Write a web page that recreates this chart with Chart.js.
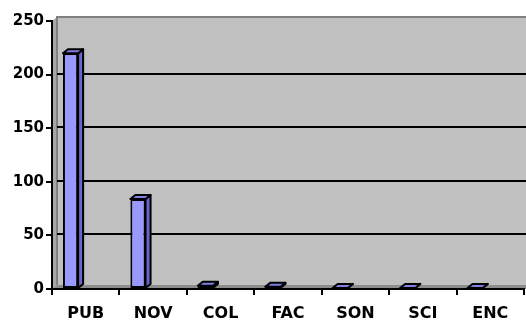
<!DOCTYPE html>
<html>
<head>
<meta charset="utf-8">
<script src="https://cdn.jsdelivr.net/npm/chart.js@4/dist/chart.umd.min.js"></script>
<style>
  html, body { margin: 0; padding: 0; background: #ffffff; }
  #wrap { width: 526px; height: 327px; }
</style>
</head>
<body>
<div id="wrap"><canvas id="chart" width="526" height="327"></canvas></div>
<script>
// Data
const categories = ['PUB', 'NOV', 'COL', 'FAC', 'SON', 'SCI', 'ENC'];
const counts = [220, 84, 3, 2, 1, 1, 1];
const yTicks = [0, 50, 100, 150, 200, 250];

const DEPTH_X = 5;
const DEPTH_Y = -4;

// Back wall, side wall, floor and gridlines like the old Excel 3D look
const wall3d = {
    id: 'wall3d',
    beforeDraw(chart) {
        const { ctx, chartArea: a } = chart;
        const yScale = chart.scales.y;
        const right = chart.width;
        ctx.save();
        // side wall
        ctx.fillStyle = '#a6a6a6';
        ctx.beginPath();
        ctx.moveTo(a.left, a.top);
        ctx.lineTo(a.left + DEPTH_X, a.top + DEPTH_Y);
        ctx.lineTo(a.left + DEPTH_X, a.bottom + DEPTH_Y);
        ctx.lineTo(a.left, a.bottom);
        ctx.closePath();
        ctx.fill();
        // floor
        ctx.fillStyle = '#8c8c8c';
        ctx.beginPath();
        ctx.moveTo(a.left, a.bottom);
        ctx.lineTo(a.left + DEPTH_X, a.bottom + DEPTH_Y);
        ctx.lineTo(right, a.bottom + DEPTH_Y);
        ctx.lineTo(right, a.bottom);
        ctx.closePath();
        ctx.fill();
        // back wall
        ctx.fillStyle = '#c0c0c0';
        ctx.fillRect(a.left + DEPTH_X, a.top + DEPTH_Y, right - a.left - DEPTH_X, a.bottom - a.top);
        ctx.strokeStyle = '#808080';
        ctx.lineWidth = 2;
        ctx.beginPath();
        ctx.moveTo(a.left + DEPTH_X, a.bottom + DEPTH_Y);
        ctx.lineTo(a.left + DEPTH_X, a.top + DEPTH_Y);
        ctx.lineTo(right, a.top + DEPTH_Y);
        ctx.stroke();
        // gridlines on the wall
        ctx.strokeStyle = '#000000';
        ctx.lineWidth = 2;
        yTicks.forEach(v => {
            if (v === 0 || v === 250) return;
            const py = Math.round(yScale.getPixelForValue(v)) - 1;
            ctx.beginPath();
            ctx.moveTo(a.left + DEPTH_X, py);
            ctx.lineTo(right, py);
            ctx.stroke();
        });
        ctx.restore();
    },
    // side and top faces of each column, front face is drawn by Chart.js
    beforeDatasetsDraw(chart) {
        const { ctx } = chart;
        const meta = chart.getDatasetMeta(0);
        ctx.save();
        ctx.lineWidth = 2;
        ctx.strokeStyle = '#000000';
        ctx.lineJoin = 'round';
        meta.data.forEach(bar => {
            const p = bar.getProps(['x', 'y', 'base', 'width'], true);
            const l = p.x - p.width / 2;
            const r = p.x + p.width / 2;
            // side
            ctx.fillStyle = '#6666cc';
            ctx.beginPath();
            ctx.moveTo(r, p.y);
            ctx.lineTo(r + DEPTH_X, p.y + DEPTH_Y);
            ctx.lineTo(r + DEPTH_X, p.base + DEPTH_Y);
            ctx.lineTo(r, p.base);
            ctx.closePath();
            ctx.fill();
            ctx.stroke();
            // top
            ctx.fillStyle = '#7f7fe6';
            ctx.beginPath();
            ctx.moveTo(l, p.y);
            ctx.lineTo(l + DEPTH_X, p.y + DEPTH_Y);
            ctx.lineTo(r + DEPTH_X, p.y + DEPTH_Y);
            ctx.lineTo(r, p.y);
            ctx.closePath();
            ctx.fill();
            ctx.stroke();
        });
        ctx.restore();
    }
};

const yFont = { family: 'DejaVu Sans', size: 15, weight: 'bold' };
const xFont = { family: 'DejaVu Sans', size: 16, weight: 'bold' };

new Chart(document.getElementById('chart'), {
    type: 'bar',
    plugins: [wall3d],
    data: {
        labels: categories,
        datasets: [{
            data: counts,
            backgroundColor: '#9999ff',
            borderColor: '#000000',
            borderWidth: 2,
            borderSkipped: false,
            categoryPercentage: 0.9,
            barPercentage: 0.5
        }, {
            // empty slot so the columns sit left of the label like the 3D original
            data: categories.map(() => null),
            categoryPercentage: 0.9,
            barPercentage: 0.5
        }]
    },
    options: {
        responsive: false,
        animation: false,
        layout: { padding: { top: 21, right: 2, left: 0, bottom: 0 } },
        plugins: {
            legend: { display: false },
            tooltip: { enabled: false }
        },
        scales: {
            x: {
                offset: true,
                grid: { display: true, drawOnChartArea: false, offset: true, color: '#000000', lineWidth: 2, tickLength: 6 },
                border: { display: true, color: '#000000', width: 2 },
                ticks: { color: '#000000', font: xFont, padding: 9, maxRotation: 0 },
                afterFit(scale) { scale.height = 38; }
            },
            y: {
                min: 0,
                max: 250,
                afterBuildTicks(scale) { scale.ticks = yTicks.map(v => ({ value: v })); },
                grid: { display: true, drawOnChartArea: false, color: '#000000', lineWidth: 2, tickLength: 6 },
                border: { display: true, color: '#000000', width: 2 },
                ticks: { color: '#000000', font: yFont, padding: 2 },
                afterFit(scale) { scale.width = 52; }
            }
        }
    }
});
</script>
</body>
</html>
